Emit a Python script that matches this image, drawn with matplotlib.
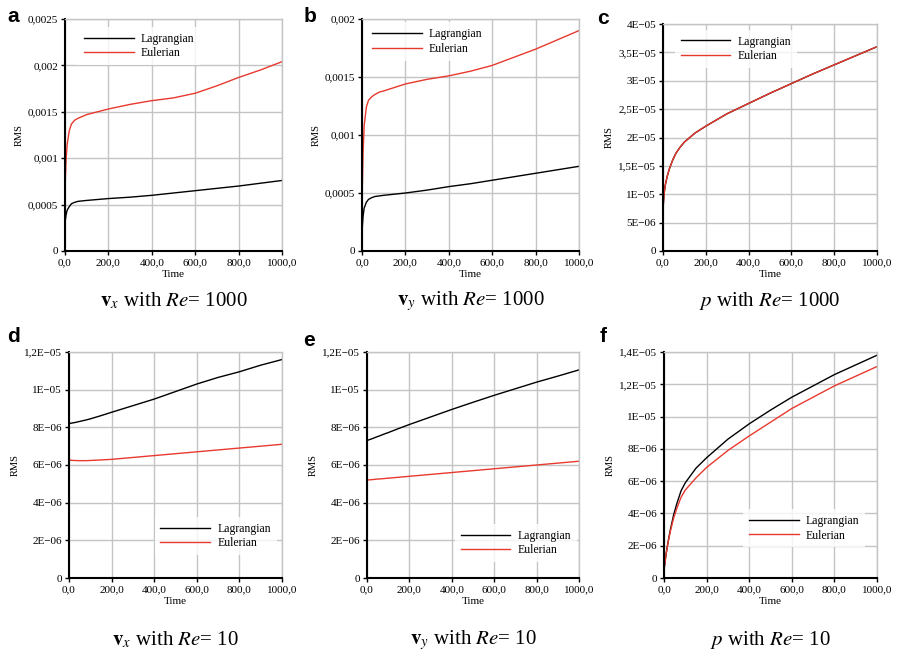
import matplotlib
matplotlib.use("Agg")
import matplotlib.pyplot as plt
import numpy as np

plt.rcParams['font.family'] = ['Liberation Serif', 'DejaVu Serif']
plt.rcParams['mathtext.fontset'] = 'stix'

RED = '#e8392e'
GRID = '#c4c4c4'

# time samples
time = [0, 2, 5, 10, 20, 30, 45, 60, 80, 100, 150, 200, 300, 400, 500,
        600, 700, 800, 900, 1000]

# a: v_x, Re=1000 (x1e-3)
a_lag = [0.30, 0.34, 0.39, 0.44, 0.48, 0.51, 0.525, 0.535, 0.54, 0.545,
         0.555, 0.565, 0.58, 0.60, 0.625, 0.65, 0.675, 0.70, 0.73, 0.76]
a_eul = [0.66, 0.80, 0.98, 1.15, 1.30, 1.37, 1.41, 1.43, 1.45, 1.47,
         1.50, 1.53, 1.58, 1.62, 1.65, 1.70, 1.78, 1.87, 1.95, 2.04]
# b: v_y, Re=1000 (x1e-3)
b_lag = [0.17, 0.22, 0.30, 0.37, 0.42, 0.445, 0.46, 0.47, 0.475, 0.48,
         0.49, 0.50, 0.525, 0.555, 0.58, 0.61, 0.64, 0.67, 0.70, 0.73]
b_eul = [0.43, 0.60, 0.85, 1.08, 1.24, 1.30, 1.33, 1.35, 1.37, 1.38,
         1.41, 1.44, 1.48, 1.51, 1.55, 1.60, 1.67, 1.74, 1.82, 1.90]
# c: p, Re=1000 (x1e-5)
c_lag = [0.65, 0.85, 1.00, 1.15, 1.32, 1.45, 1.60, 1.72, 1.83, 1.92,
         2.08, 2.20, 2.42, 2.60, 2.78, 2.95, 3.12, 3.28, 3.44, 3.60]
c_eul = [0.65, 0.85, 1.00, 1.15, 1.32, 1.45, 1.60, 1.72, 1.83, 1.92,
         2.08, 2.20, 2.42, 2.60, 2.78, 2.95, 3.12, 3.28, 3.44, 3.60]
# d: v_x, Re=10 (x1e-6)
d_lag = [8.20, 8.20, 8.21, 8.22, 8.24, 8.26, 8.30, 8.34, 8.39, 8.45,
         8.62, 8.80, 9.15, 9.50, 9.90, 10.30, 10.65, 10.95, 11.30, 11.60]
d_eul = [6.27, 6.26, 6.26, 6.25, 6.24, 6.24, 6.23, 6.23, 6.23, 6.24,
         6.27, 6.30, 6.40, 6.50, 6.60, 6.70, 6.80, 6.90, 7.00, 7.10]
# e: v_y, Re=10 (x1e-6)
e_lag = [7.30, 7.31, 7.32, 7.34, 7.38, 7.42, 7.49, 7.55, 7.64, 7.72,
         7.94, 8.15, 8.55, 8.95, 9.33, 9.70, 10.05, 10.40, 10.72, 11.05]
e_eul = [5.20, 5.20, 5.21, 5.21, 5.22, 5.23, 5.25, 5.26, 5.28, 5.30,
         5.35, 5.40, 5.50, 5.60, 5.70, 5.80, 5.90, 6.00, 6.10, 6.20]
# f: p, Re=10 (x1e-6)
f_lag = [0.50, 0.70, 1.00, 1.50, 2.30, 3.00, 3.90, 4.60, 5.40, 5.90,
         6.80, 7.45, 8.60, 9.55, 10.40, 11.20, 11.90, 12.60, 13.20, 13.80]
f_eul = [0.50, 0.70, 1.00, 1.50, 2.25, 2.90, 3.70, 4.30, 5.00, 5.45,
         6.20, 6.85, 7.90, 8.80, 9.65, 10.50, 11.20, 11.90, 12.50, 13.10]

x_ticks = [0, 200, 400, 600, 800, 1000]
x_labels = ['0,0', '200,0', '400,0', '600,0', '800,0', '1000,0']

ticks_a = [0, 0.5, 1.0, 1.5, 2.0, 2.5]
labels_a = ['0', '0,0005', '0,001', '0,0015', '0,002', '0,0025']
ticks_b = [0, 0.5, 1.0, 1.5, 2.0]
labels_b = ['0', '0,0005', '0,001', '0,0015', '0,002']
ticks_c = [0, 0.5, 1.0, 1.5, 2.0, 2.5, 3.0, 3.5, 4.0]
labels_c = ['0', '5E\u221206', '1E\u221205', '1,5E\u221205', '2E\u221205',
            '2,5E\u221205', '3E\u221205', '3,5E\u221205', '4E\u221205']
ticks_de = [0, 2, 4, 6, 8, 10, 12]
labels_de = ['0', '2E\u221206', '4E\u221206', '6E\u221206', '8E\u221206',
             '1E\u221205', '1,2E\u221205']
ticks_f = [0, 2, 4, 6, 8, 10, 12, 14]
labels_f = ['0', '2E\u221206', '4E\u221206', '6E\u221206', '8E\u221206',
            '1E\u221205', '1,2E\u221205', '1,4E\u221205']

W, H = 898, 659

panels = [
    # letter, letter pos px, axes rect px (left, top, right, bottom), data, ticks, caption, legend
    ('a', (7, 17), (65, 19, 282, 251), a_lag, a_eul, ticks_a, labels_a,
     r'$\mathbf{v}_x$ with $Re$= 1000', ('upper left', (0.06, 0.965))),
    ('b', (304, 17), (362, 19, 579, 251), b_lag, b_eul, ticks_b, labels_b,
     r'$\mathbf{v}_y$ with $Re$= 1000', ('upper left', (0.02, 0.985))),
    ('c', (597, 19), (663, 24, 877, 251), c_lag, c_eul, ticks_c, labels_c,
     r'$p$ with $Re$= 1000', ('upper left', (0.055, 0.975))),
    ('d', (7, 337), (69, 352, 282, 578), d_lag, d_eul, ticks_de, labels_de,
     r'$\mathbf{v}_x$ with $Re$= 10', ('lower right', (0.975, 0.10))),
    ('e', (303, 340), (367, 352, 579, 578), e_lag, e_eul, ticks_de, labels_de,
     r'$\mathbf{v}_y$ with $Re$= 10', ('lower right', (0.99, 0.07))),
    ('f', (600, 337), (664, 352, 877, 578), f_lag, f_eul, ticks_f, labels_f,
     r'$p$ with $Re$= 10', ('lower right', (0.945, 0.135))),
]

fig = plt.figure(figsize=(W / 100, H / 100), dpi=100)

for letter, (lx, ly), (l, t, r, b), lag, eul, yt, yl, caption, (loc, anchor) in panels:
    ax = fig.add_axes([l / W, 1 - b / H, (r - l) / W, (b - t) / H])
    ax.plot(time, lag, color='black', lw=1.0, label='Lagrangian')
    ax.plot(time, eul, color=RED, lw=1.0, label='Eulerian')
    ax.set_xlim(0, 1000)
    ax.set_ylim(yt[0], yt[-1])
    ax.set_xticks(x_ticks, labels=x_labels)
    ax.set_yticks(yt, labels=yl)
    ax.grid(True, color=GRID, lw=1.0)
    ax.set_axisbelow(True)
    for side in ('top', 'right'):
        ax.spines[side].set_color(GRID)
        ax.spines[side].set_linewidth(1.0)
    for side in ('left', 'bottom'):
        ax.spines[side].set_color('black')
        ax.spines[side].set_linewidth(1.5)
    ax.tick_params(length=3, width=1, labelsize=8, pad=2)
    ax.set_xlabel('Time', fontsize=8, labelpad=2)
    ax.set_ylabel('RMS', fontsize=7.5, labelpad=3)
    leg = ax.legend(loc=loc, bbox_to_anchor=anchor, borderaxespad=0,
                    frameon=True, fancybox=False, fontsize=8.5,
                    handlelength=4.2, handletextpad=0.6, labelspacing=0.2,
                    borderpad=0.5)
    leg.get_frame().set_facecolor('white')
    leg.get_frame().set_edgecolor('none')

    cx = (l + r) / 2 / W
    cy = 1 - (b + 50) / H if b < 300 else 1 - (b + 62) / H
    fig.text(cx, cy, caption, ha='center', va='center', fontsize=15)
    fig.text(lx / W, 1 - ly / H, letter, ha='left', va='center',
             fontsize=15, fontweight='bold', family='Liberation Sans')

fig.savefig('out.png', dpi=100)
